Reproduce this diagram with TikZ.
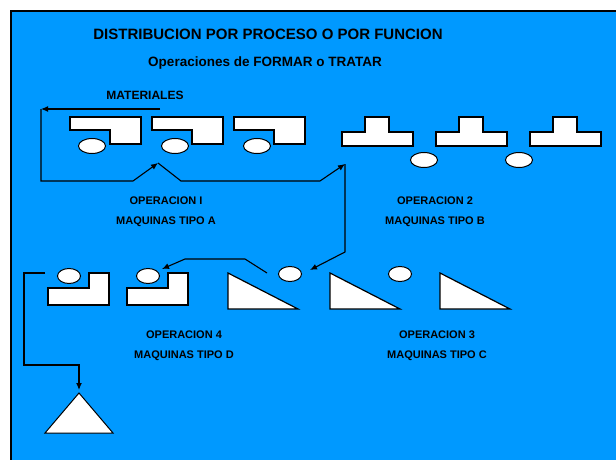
\documentclass[tikz,border=0pt]{standalone}
\usepackage{fontspec}
\setmainfont{Liberation Sans}
\usepackage{xcolor}
\usetikzlibrary{positioning,arrows.meta,shapes.geometric}

\definecolor{fondo}{RGB}{0,153,255}

\tikzset{
  maquina/.style={draw, fill=white, line width=1.2pt, line join=miter},
  pieza/.style={draw, fill=white, ellipse, line width=1pt, inner sep=0pt, minimum width=27pt, minimum height=15pt},
  piezac/.style={pieza, minimum width=23pt, minimum height=15pt},
  flujo/.style={draw, line width=1.1pt, -{Latex[length=7pt,width=6pt]}},
  linea/.style={draw, line width=1.1pt},
  rotulo/.style={font=\bfseries\fontsize{11}{20}\selectfont, align=center}
}

\begin{document}
\begin{tikzpicture}[x=1pt, y=-1pt]
\useasboundingbox (0,0) rectangle (616,460);
\clip (0,0) rectangle (616,460);
\draw[fill=fondo, line width=2.5pt] (11,11) rectangle (630,470);

\node[font=\bfseries\fontsize{15}{18}\selectfont] (titulo) at (268,34) {DISTRIBUCION POR PROCESO O POR FUNCION};
\node[font=\bfseries\fontsize{13.5}{16}\selectfont] (subtitulo) at (265,63) {Operaciones de FORMAR o TRATAR};
\node[font=\bfseries\fontsize{12}{14}\selectfont] (materiales) at (145,95) {MATERIALES};

% maquinas tipo A
\foreach \x in {70,152,234} {
  \draw[maquina] (\x,117) -- ++(71,0) -- ++(0,27) -- ++(-31,0) -- ++(0,-14) -- ++(-40,0) -- cycle;
}
\node[pieza] (a1) at (92,146) {};
\node[pieza] (a2) at (175,146) {};
\node[pieza] (a3) at (257,146) {};

% maquinas tipo B
\foreach \x in {342,436,530} {
  \draw[maquina] (\x,132) -- ++(23,0) -- ++(0,-15) -- ++(24,0) -- ++(0,15) -- ++(24,0) -- ++(0,14) -- ++(-71,0) -- cycle;
}
\node[pieza] (b1) at (424,160) {};
\node[pieza] (b2) at (519,160) {};

% maquinas tipo C
\foreach \x in {228,330,440} {
  \draw[maquina] (\x,273) -- ++(0,36) -- ++(70,0) -- cycle;
}
\node[piezac] (c1) at (290,274) {};
\node[piezac] (c2) at (400,274) {};

% maquinas tipo D
\foreach \x in {48,127} {
  \draw[maquina] (\x,288) -- ++(41,0) -- ++(0,-15) -- ++(20,0) -- ++(0,32) -- ++(-61,0) -- cycle;
}
\node[piezac] (d1) at (69,276) {};
\node[piezac] (d2) at (148,276) {};

% almacen
\draw[maquina, line width=1pt] (79,393) -- (113,433) -- (45,433) -- cycle;

\node[rotulo] (op1) at (166,212) {OPERACION I\\MAQUINAS TIPO A};
\node[rotulo] (op2) at (435,212) {OPERACION 2\\MAQUINAS TIPO B};
\node[rotulo] (op4) at (184,346) {OPERACION 4\\MAQUINAS TIPO D};
\node[rotulo] (op3) at (437,346) {OPERACION 3\\MAQUINAS TIPO C};

% recorrido
\coordinate (m0) at (160,109);
\coordinate (m1) at (41,109);
\coordinate (t1) at (158,163);
\coordinate (t2) at (345,164);
\coordinate (t3) at (310,270);
\coordinate (s4) at (267,273);
\coordinate (t4) at (162,269);
\coordinate (s5) at (45,273);
\coordinate (t5) at (79,390);

\path[flujo] (m0) -- (m1);
\path[flujo] (m1) |- (133,181) -- (t1);
\path[flujo] (t1) -- (181,181) -- (320,181) -- (t2);
\path[flujo] (t2) -- (345,252) -- (t3);
\path[flujo] (s4) -- (245,259) -- (185,259) -- (t4);
\path[flujo] (s5) -- (24,273) |- (79,365) -- (t5);
\end{tikzpicture}
\end{document}
